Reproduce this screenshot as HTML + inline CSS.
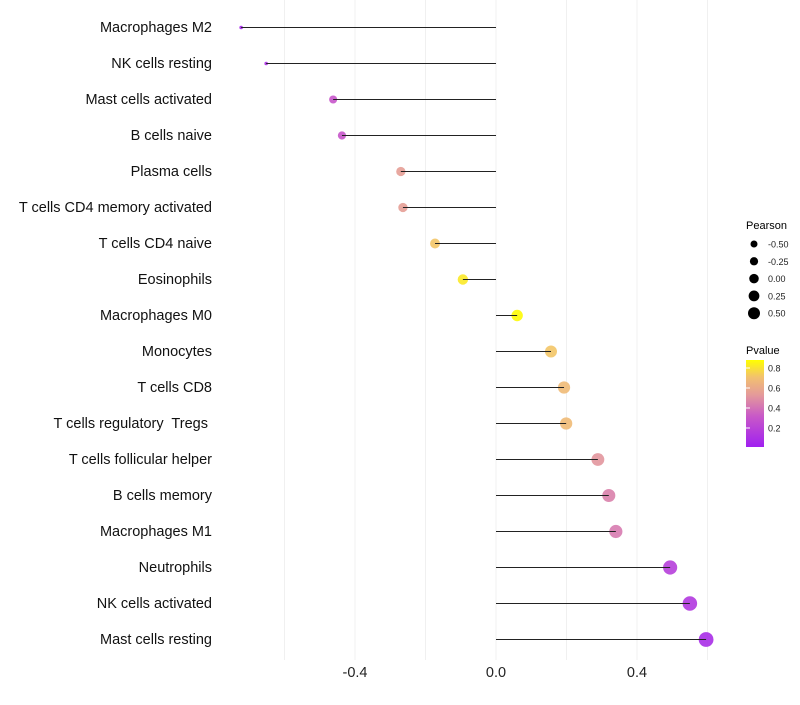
<!DOCTYPE html>
<html><head><meta charset="utf-8"><style>
body{margin:0;background:#fff;font-family:"Liberation Sans",sans-serif;}
svg text{font-family:"Liberation Sans",sans-serif;white-space:pre;}
</style></head><body>
<svg id="chart" width="800" height="700" xmlns="http://www.w3.org/2000/svg">
<defs><linearGradient id="pg" x1="0" y1="1" x2="0" y2="0">
<stop offset="0" stop-color="#a020f0"/><stop offset="0.35" stop-color="#c858c8"/><stop offset="0.6" stop-color="#e49a9a"/><stop offset="0.8" stop-color="#f2c070"/><stop offset="1" stop-color="#ffff00"/></linearGradient></defs>
<g id="grid"></g><g id="dots"></g><g id="marks"></g><g id="labels"></g>
<g>
<text x="746" y="229" font-size="11">Pearson</text>
<g id="sizeleg"></g>
<text x="746" y="354" font-size="11">Pvalue</text>
<rect x="746" y="360" width="18" height="87" fill="url(#pg)"/>
<g id="cticks"></g>
</g>
</svg>
<script>
const categories=["Macrophages M2","NK cells resting","Mast cells activated","B cells naive","Plasma cells","T cells CD4 memory activated","T cells CD4 naive","Eosinophils","Macrophages M0","Monocytes","T cells CD8","T cells regulatory  Tregs ","T cells follicular helper","B cells memory","Macrophages M1","Neutrophils","NK cells activated","Mast cells resting"];
const pearson=[-0.723,-0.652,-0.462,-0.437,-0.27,-0.264,-0.173,-0.094,0.06,0.156,0.193,0.199,0.289,0.32,0.34,0.494,0.55,0.596];
const pvalue=[0.05,0.1,0.3,0.3,0.55,0.55,0.72,0.82,0.87,0.72,0.68,0.68,0.52,0.45,0.43,0.18,0.14,0.08];
const xTicks=[-0.4,0.0,0.4];
const xGrid=[-0.6,-0.4,-0.2,0,0.2,0.4,0.6];
const sizeLegend=[-0.5,-0.25,0,0.25,0.5];
const colorTicks=[0.2,0.4,0.6,0.8];
const NS="http://www.w3.org/2000/svg";
const xs=v=>496+v*352.5, ys=i=>27.5+i*36, rs=v=>Math.max(1.8,5.5+3.2*v-(v<-0.6?2:0));
const lr=v=>3.5+2.5*(v+0.5);
const cy=p=>447-(p-0.01)*100;
function lerp(a,b,t){return a.map((x,i)=>Math.round(x+(b[i]-x)*t));}
function col(p){const t=Math.min(1,Math.max(0,(p-0.01)/0.87));const st=[[0,[160,32,240]],[0.35,[200,88,200]],[0.6,[228,154,154]],[0.8,[242,192,112]],[1,[255,255,0]]];
for(let i=0;i<st.length-1;i++){if(t<=st[i+1][0]){const c=lerp(st[i][1],st[i+1][1],(t-st[i][0])/(st[i+1][0]-st[i][0]));return`rgb(${c})`;}}return"rgb(255,255,0)";}
function mk(tag,at,parent){const e=document.createElementNS(NS,tag);for(const k in at)e.setAttribute(k,at[k]);document.getElementById(parent).appendChild(e);return e;}
xGrid.forEach(v=>{const l=mk("line",{x1:xs(v),x2:xs(v),y1:0,y2:660,stroke:"#f0f0f0","stroke-width":1},"grid");

});
xTicks.forEach(v=>{const t=mk("text",{x:xs(v),y:677,"font-size":14.5,"text-anchor":"middle",fill:"#222"},"labels");t.textContent=v.toFixed(1);

});
categories.forEach((c,i)=>{const y=ys(i);
const t=mk("text",{x:212,y:y+4.5,"font-size":14.5,"text-anchor":"end",fill:"#111"},"labels");t.textContent=c;


const d=mk("circle",{cx:xs(pearson[i]),cy:y,r:rs(pearson[i]),fill:col(pvalue[i]),"fill-opacity":0.9},"dots");


const l=mk("line",{x1:xs(0),x2:xs(pearson[i]),y1:y,y2:y,stroke:"#222","stroke-width":1.1},"marks");

});
sizeLegend.forEach((v,i)=>{const y=244+i*17.3;
const d=mk("circle",{cx:754,cy:y,r:lr(v),fill:"#000"},"sizeleg");


const t=mk("text",{x:768,y:y+3.5,"font-size":9,fill:"#222"},"sizeleg");t.textContent=v.toFixed(2);

});
colorTicks.forEach(p=>{const y=cy(p);
const t=mk("text",{x:768,y:y+3.5,"font-size":9,fill:"#222"},"cticks");t.textContent=p.toFixed(1);


const l=mk("line",{x1:746,x2:750,y1:y,y2:y,stroke:"#fff"},"cticks");

});
</script>
</body></html>
